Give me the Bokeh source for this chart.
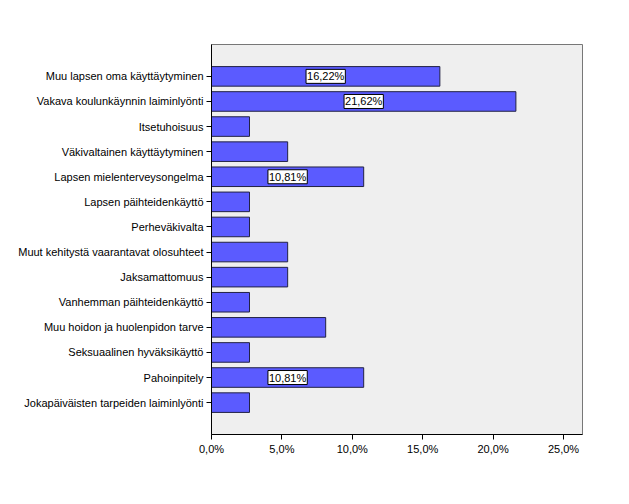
from bokeh.plotting import figure
from bokeh.models import ColumnDataSource, FactorRange, Range1d, FixedTicker, Label
from bokeh.embed import file_html
from bokeh.resources import INLINE

categories = [
    "Muu lapsen oma käyttäytyminen",
    "Vakava koulunkäynnin laiminlyönti",
    "Itsetuhoisuus",
    "Väkivaltainen käyttäytyminen",
    "Lapsen mielenterveysongelma",
    "Lapsen päihteidenkäyttö",
    "Perheväkivalta",
    "Muut kehitystä vaarantavat olosuhteet",
    "Jaksamattomuus",
    "Vanhemman päihteidenkäyttö",
    "Muu hoidon ja huolenpidon tarve",
    "Seksuaalinen hyväksikäyttö",
    "Pahoinpitely",
    "Jokapäiväisten tarpeiden laiminlyönti",
]
values = [16.22, 21.62, 2.70, 5.41, 10.81, 2.70, 2.70, 5.41, 5.41, 2.70, 8.11, 2.70, 10.81, 2.70]
bar_labels = ["16,22%", "21,62%", "", "", "10,81%", "", "", "", "", "", "", "", "10,81%", ""]
tick_values = [0, 5, 10, 15, 20, 25]
tick_labels = ["0,0%", "5,0%", "10,0%", "15,0%", "20,0%", "25,0%"]

FONT = "Liberation Sans"

factors = list(reversed(categories))
p = figure(
    width=629, height=504,
    y_range=FactorRange(factors=factors, range_padding=0.11),
    x_range=Range1d(0, 26.35),
    output_backend="svg", toolbar_location=None,
    min_border_left=211, min_border_right=47, min_border_top=44, min_border_bottom=70,
)
p.background_fill_color = "#EFEFEF"
p.border_fill_color = "white"
p.outline_line_color = "#777777"
p.outline_line_width = 1

src = ColumnDataSource(dict(cat=categories, val=values))
p.hbar(y="cat", right="val", left=0, height=0.78, source=src,
       fill_color="#5B5BFF", line_color="#222244", line_width=1)

for c, v, t in zip(categories, values, bar_labels):
    if not t:
        continue
    p.add_layout(Label(x=v / 2, y=factors.index(c) + 0.5, text=t,
                       text_align="center", text_baseline="middle",
                       text_font=FONT, text_font_size="11px", text_color="black",
                       background_fill_color="white", border_line_color="black",
                       border_line_width=1, padding=1))

p.xgrid.visible = False
p.ygrid.visible = False

p.xaxis.ticker = FixedTicker(ticks=tick_values)
p.xaxis.major_label_overrides = {t: l for t, l in zip(tick_values, tick_labels)}
p.xaxis.minor_tick_line_color = None
for ax in (p.xaxis, p.yaxis):
    ax.axis_line_color = "black"
    ax.major_tick_line_color = "black"
    ax.major_tick_out = 5
    ax.major_tick_in = 0
    ax.major_label_text_font = FONT
    ax.major_label_text_font_size = "11px"
    ax.major_label_text_color = "black"
    ax.major_label_standoff = 3

open("out.html", "w").write(file_html(p, INLINE))
